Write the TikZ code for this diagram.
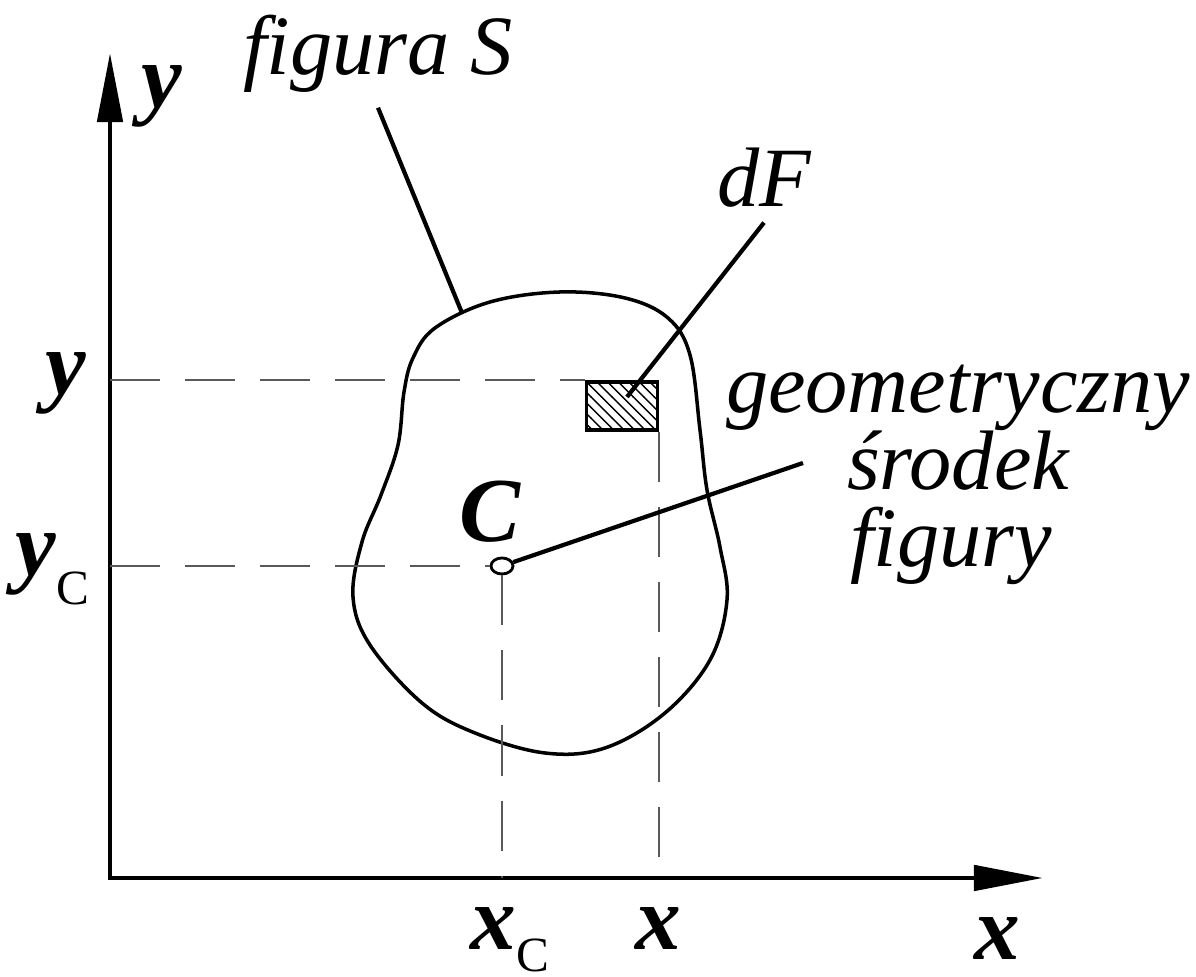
\documentclass[tikz,border=0pt]{standalone}
\usepackage{fontspec}
\setmainfont{Liberation Serif}
\usetikzlibrary{arrows.meta,shapes.geometric,patterns}
\newcommand{\subC}{{\fontsize{14}{17}\selectfont\mdseries\upshape C}}

\begin{document}
\begin{tikzpicture}[x=0.01cm,y=-0.01cm,
  axis/.style={line width=1.4pt,{Triangle[length=6.9mm,width=2.5mm]}-{Triangle[length=6.9mm,width=2.5mm]}},
  guide/.style={gray!70!black,line width=0.45pt,dash pattern=on 0.5cm off 0.25cm},
  leader/.style={line width=1.2pt},
  txt/.style={font=\fontsize{24}{28}\selectfont\itshape,inner sep=4pt},
  lab/.style={font=\fontsize{26}{30}\selectfont\bfseries\itshape,inner sep=0pt},
  elem/.style={draw,line width=1pt,pattern=north west lines,minimum width=0.71cm,minimum height=0.48cm,inner sep=0pt},
  dot/.style={draw,ellipse,line width=0.8pt,minimum width=0.22cm,minimum height=0.16cm,inner sep=0pt}]

  \useasboundingbox (0,0) rectangle (1196,977);

  % --- axes ---
  \coordinate (O) at (110,878);
  \coordinate (ytip) at (110,53);
  \coordinate (xtip) at (1043,878);
  \draw[axis] (ytip) -- (O) -- (xtip);

  % --- figure S ---
  \draw[line width=1pt] plot[smooth cycle,tension=0.6] coordinates {
    (404,392) (413,358) (435,328) (490,302) (560,292) (625,298) (668,318)
    (690,355) (700,430) (707,490) (720,547) (727,600) (710,660) (665,713)
    (605,748) (545,753) (475,733) (422,703) (370,645) (353,597) (362,542)
    (381,495) (398,445)};
  \coordinate (sTip) at (462,313);

  % --- element dF and centroid C ---
  \node[elem] (dFbox) at (622,406) {};
  \coordinate (dfTip) at (627,397);
  \node[dot] (cdot) at (502,566) {};
  \coordinate (cTail) at (803,463);

  % --- guide lines ---
  \draw[guide] (dFbox.north west -| O) -- (dFbox.north west);
  \draw[guide] (dFbox.south east) -- (dFbox.south east |- O);
  \draw[guide] (cdot.west -| O) -- (cdot.west);
  \draw[guide] (cdot.south) -- (cdot.south |- O);

  % --- axis labels ---
  \node[lab,anchor=base] (ytop) at (162,108) {y};
  \node[lab,anchor=base] (yval) at (66,395) {y};
  \node[lab,anchor=base west] (ycval) at (15,576) {y\raisebox{-8pt}{\subC}};
  \node[lab,anchor=base west] (xcval) at (470,950) {x\raisebox{-6pt}{\subC}};
  \node[lab,anchor=base] (xval) at (658,950) {x};
  \node[lab,anchor=base] (xright) at (997,960) {x};
  \node[lab,anchor=base] (clab) at (490,542) {C};

  % --- descriptions ---
  \node[txt,anchor=base] (figS) at (378,75) {figura S};
  \node[txt,anchor=base] (dF) at (764,207) {dF};
  \node[txt,anchor=base] (geo) at (958,413) {geometryczny};
  \node[txt,anchor=base] (srod) at (958,490) {środek};
  \node[txt,anchor=base] (figy) at (951,567) {figury};

  % --- leaders ---
  \draw[leader] (figS.south) -- (sTip);
  \draw[leader] (dF.south) -- (dfTip);
  \draw[leader] (cdot) -- (cTail);
\end{tikzpicture}
\end{document}
